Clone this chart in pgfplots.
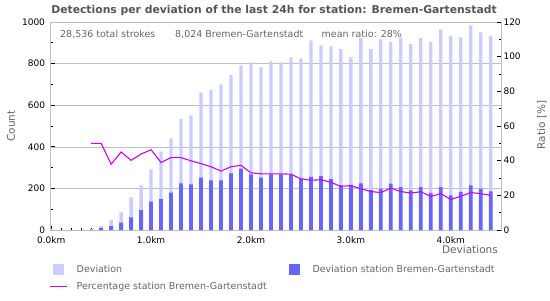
\documentclass[border=0pt]{standalone}
\usepackage{fontspec}
\setmainfont{DejaVu Sans}
\usepackage{pgfplots}
\usepackage{pgfplotstable}
\pgfplotsset{compat=1.18}
\definecolor{lightbar}{RGB}{204,204,255}
\definecolor{darkbar}{RGB}{102,102,255}
\definecolor{ratioline}{RGB}{204,0,238}
\definecolor{axisgray}{RGB}{192,192,192}
\definecolor{txtgray}{RGB}{102,102,102}
\definecolor{titlegray}{RGB}{85,85,85}

\pgfplotstableread{
i light dark
0 7 0
1 0 0
2 0 0
3 0 0
4 4 2
5 19 10
6 47 19
7 85 36
8 157 61
9 215 95
10 292 136
11 378 148
12 441 180
13 534 224
14 551 219
15 662 252
16 672 238
17 700 238
18 744 272
19 792 295
20 806 267
21 782 252
22 811 267
23 806 268
24 830 267
25 825 247
26 912 255
27 888 260
28 883 244
29 869 215
30 830 217
31 922 224
32 869 192
33 917 199
34 904 223
35 922 206
36 894 191
37 922 206
38 904 178
39 965 206
40 933 167
41 926 182
42 984 215
43 950 199
44 933 186
}\bars

\pgfplotstableread{
i ratio
4 50
5 50
6 37.9
7 45
8 40.2
9 43.8
10 46.3
11 38.9
12 41.8
13 41.8
14 39.9
15 38.3
16 36.5
17 34
18 36.5
19 37.3
20 33
21 32.4
22 32.4
23 32.4
24 32.2
25 29.5
26 28.7
27 29
28 27.5
29 25.2
30 25.6
31 23.8
32 22.2
33 21.6
34 24.2
35 22.2
36 21.3
37 22.1
38 19.3
39 21
40 17.6
41 19.5
42 21.6
43 21
44 20
}\ratio

\begin{document}
\begin{tikzpicture}[x=1bp,y=1bp]
\path[use as bounding box] (0,0) rectangle (550,300);
\begin{axis}[
  at={(50.5bp,70bp)}, anchor=south west, scale only axis,
  width=450.5bp, height=208bp,
  xmin=-0.07, xmax=45.03, ymin=0, ymax=1000,
  axis line style={axisgray, line width=0.8pt},
  xtick pos=bottom, ytick pos=left,
  tick align=inside,
  xtick={0,5,...,40}, xticklabels={0.0km,,1.0km,,2.0km,,3.0km,,4.0km},
  minor xtick={0,...,44},
  ytick={0,200,...,1000}, minor ytick={100,300,...,900},
  ymajorgrids, grid style={axisgray, line width=0.6pt},
  major tick length=4.5bp, minor tick length=2.5bp,
  tick style={black, line width=0.8pt},
  /pgf/number format/assume math mode=true,
  ticklabel style={font=\fontsize{9bp}{11bp}\selectfont, text=black},
  xticklabel style={yshift=-3bp},
  yticklabel style={xshift=-2bp},
  scaled y ticks=false,
  yticklabel={\pgfmathprintnumber[fixed,precision=0,set thousands separator={}]{\tick}},
]
\addplot[ybar, bar width=3.3bp, bar shift=0pt, fill=lightbar, draw=none] table[x=i,y=light]{\bars};
\addplot[ybar, bar width=3.8bp, bar shift=0pt, fill=darkbar, draw=none] table[x=i,y=dark]{\bars};
\end{axis}
\begin{axis}[
  at={(50.5bp,70bp)}, anchor=south west, scale only axis,
  width=450.5bp, height=208bp,
  xmin=-0.07, xmax=45.03, ymin=0, ymax=120,
  axis x line=none, axis y line*=right,
  axis line style={-, axisgray, line width=0.8pt},
  tick align=inside,
  ytick={0,20,...,120}, minor ytick={10,30,...,110},
  major tick length=4.5bp, minor tick length=2.5bp,
  tick style={black, line width=0.8pt},
  /pgf/number format/assume math mode=true,
  ticklabel style={font=\fontsize{9bp}{11bp}\selectfont, text=black},
  yticklabel style={xshift=-1bp},
  legend columns=2,
  legend cell align=left,
  legend style={draw=none, fill=none, inner sep=0pt, outer sep=0pt,
    at={(axis description cs:-0.001,-0.1635)}, anchor=north west,
    font=\fontsize{9.5bp}{11bp}\selectfont, text=txtgray,
    nodes={inner sep=0pt},
    row sep=6bp,
    /tikz/every odd column/.style={column sep=10bp},
    /tikz/every even column/.style={column sep=19bp}},
]
\addplot[ratioline, line width=1.1pt, mark=none, forget plot] table[x=i,y=ratio]{\ratio};
\addlegendimage{draw=none, fill=lightbar, legend image code/.code={\path[draw=none, fill=none] (0bp,-5.5bp) rectangle (16.7bp,5.5bp); \fill[lightbar, draw=none] (3bp,-5bp) rectangle (13.7bp,5.5bp);}}
\addlegendentry{Deviation}
\addlegendimage{draw=none, fill=darkbar, legend image code/.code={\path[draw=none, fill=none] (0bp,-5.5bp) rectangle (16.7bp,5.5bp); \fill[darkbar, draw=none] (3bp,-5bp) rectangle (13.7bp,5.5bp);}}
\addlegendentry{Deviation station Bremen-Gartenstadt}
\addlegendimage{draw=ratioline, line width=1.5bp, legend image code/.code={\path[draw=none, fill=none] (0bp,-5.5bp) rectangle (16.7bp,5.5bp); \fill[ratioline, draw=none] (0bp,-0.8bp) rectangle (16.7bp,0.8bp);}}
\addlegendentry{Percentage station Bremen-Gartenstadt}
\end{axis}
\node[anchor=base, inner sep=0, font=\bfseries\fontsize{10.8bp}{13bp}\selectfont, text=titlegray] at (274,286.5) {Detections per deviation of the last 24h for station: Bremen-Gartenstadt};
\node[anchor=base west, inner sep=0, font=\fontsize{9.5bp}{11bp}\selectfont, text=txtgray] at (60,262.7) {28,536 total strokes};
\node[anchor=base west, inner sep=0, font=\fontsize{9.5bp}{11bp}\selectfont, text=txtgray] at (175,262.7) {8,024 Bremen-Gartenstadt};
\node[anchor=base west, inner sep=0, font=\fontsize{9.5bp}{11bp}\selectfont, text=txtgray] at (321.5,262.7) {mean ratio: 28\%};
\node[rotate=90, inner sep=0, font=\fontsize{10.5bp}{12bp}\selectfont, text=txtgray] at (11,174) {Count};
\node[rotate=90, inner sep=0, font=\fontsize{10.5bp}{12bp}\selectfont, text=txtgray] at (541.7,175) {Ratio [\%]};
\node[anchor=base east, inner sep=0, font=\fontsize{10.5bp}{12bp}\selectfont, text=txtgray] at (498,46.7) {Deviations};
\end{tikzpicture}
\end{document}
